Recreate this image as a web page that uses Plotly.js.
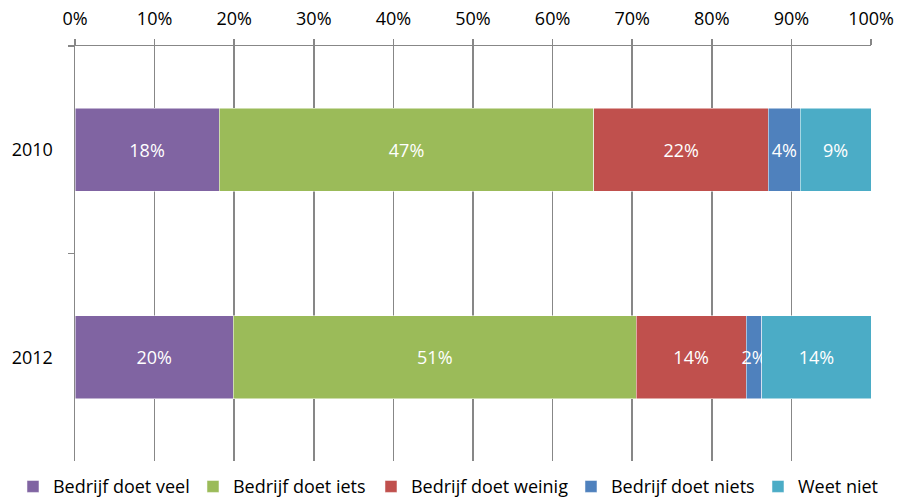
<!DOCTYPE html>
<html>
<head>
<meta charset="utf-8">
<script src="https://cdn.plot.ly/plotly-3.0.1.min.js"></script>
<style>html,body{margin:0;padding:0;background:#fff;}#chart{width:899px;height:497px;}</style>
</head>
<body>
<div id="chart"></div>
<script>
const years = ['2010', '2012'];
const seriesNames = ['Bedrijf doet veel', 'Bedrijf doet iets', 'Bedrijf doet weinig', 'Bedrijf doet niets', 'Weet niet'];
const veel   = [18.1, 19.9];
const iets   = [47.1, 50.6];
const weinig = [21.9, 13.8];
const niets  = [4.0, 2.0];
const weetNiet = [8.9, 13.7];
const colors = ['#8064A2', '#9BBB59', '#C0504D', '#4F81BD', '#4BACC6'];
const legendWidths = [135, 133, 155, 142, null];
const allValues = [veel, iets, weinig, niets, weetNiet];
const FONT = '"Open Sans", Lato, sans-serif';

const traces = allValues.map((vals, i) => {
  const t = {
    type: 'bar',
    orientation: 'h',
    name: seriesNames[i],
    y: years,
    x: vals,
    marker: {color: colors[i], line: {color: '#ffffff', width: 0.5}},
    texttemplate: '%{x:.0f}%',
    textposition: 'inside',
    insidetextanchor: 'middle',
    textangle: 0,
    constraintext: 'none',
    insidetextfont: {color: '#ffffff', size: 18, family: FONT},
    hoverinfo: 'none'
  };
  if (legendWidths[i]) t.legendwidth = legendWidths[i];
  return t;
});

const layout = {
  width: 899, height: 497,
  margin: {l: 75, r: 28, t: 46, b: 36, autoexpand: false},
  barmode: 'stack',
  bargap: 0.6,
  paper_bgcolor: '#ffffff',
  plot_bgcolor: '#ffffff',
  font: {family: FONT, size: 18, color: '#000000'},
  showlegend: true,
  legend: {
    orientation: 'h', x: -0.0779, xanchor: 'left', y: -0.062, yanchor: 'middle',
    font: {size: 18, family: FONT}, traceorder: 'normal', itemwidth: 30,
    bgcolor: 'rgba(0,0,0,0)'
  },
  xaxis: {
    side: 'top', range: [0, 100], dtick: 10, ticksuffix: '%',
    showgrid: true, gridcolor: '#878787', gridwidth: 1.5,
    showline: true, linecolor: '#878787', linewidth: 1.5,
    ticks: 'outside', ticklen: 6, tickcolor: '#878787', tickwidth: 1.5,
    ticklabelstandoff: 6, zeroline: false, fixedrange: true
  },
  yaxis: {
    type: 'category', categoryorder: 'array', categoryarray: years,
    autorange: 'reversed',
    showline: true, linecolor: '#878787', linewidth: 1.5,
    ticks: 'outside', tickson: 'boundaries', ticklen: 6, tickcolor: '#878787', tickwidth: 1.5,
    ticklabelstandoff: 17, showgrid: false, zeroline: false, fixedrange: true
  }
};

Plotly.newPlot('chart', traces, layout, {displayModeBar: false, staticPlot: true});
</script>
</body>
</html>
